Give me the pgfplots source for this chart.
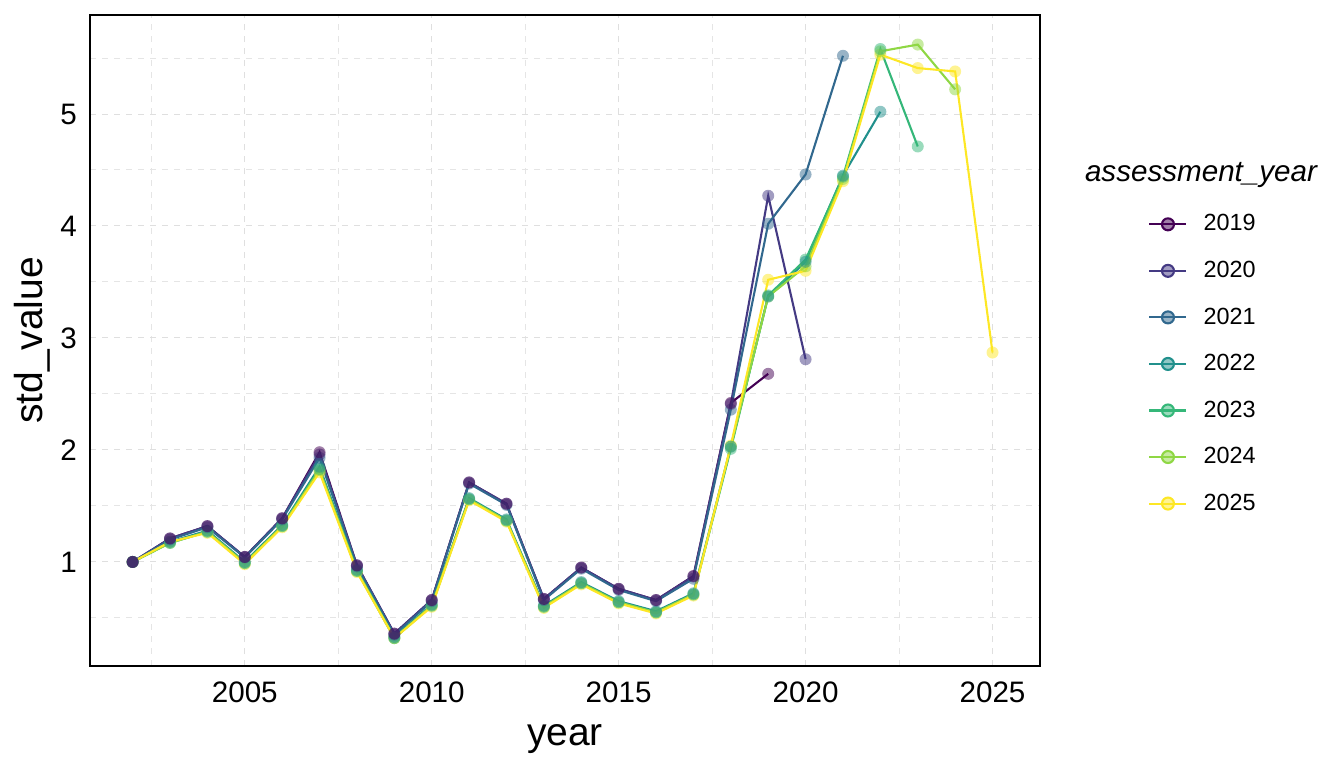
\documentclass[border=0pt]{standalone}
\usepackage{fontspec}
\setmainfont{Liberation Sans}
\usepackage{pgfplots}
\usepackage{pgfplotstable}
\pgfplotsset{compat=1.18}
\definecolor{c19}{HTML}{440154}
\definecolor{c20}{HTML}{443A83}
\definecolor{c21}{HTML}{31688E}
\definecolor{c22}{HTML}{21908C}
\definecolor{c23}{HTML}{35B779}
\definecolor{c24}{HTML}{8FD744}
\definecolor{c25}{HTML}{FDE725}

\pgfplotstableread{
x y
2002 1.00
2003 1.21
2004 1.32
2005 1.045
2006 1.39
2007 1.98
2008 0.97
2009 0.36
2010 0.66
2011 1.71
2012 1.52
2013 0.67
2014 0.95
2015 0.76
2016 0.66
2017 0.875
2018 2.42
2019 2.68
}\tA
\pgfplotstableread{
x y
2002 1.00
2003 1.21
2004 1.32
2005 1.045
2006 1.39
2007 1.96
2008 0.97
2009 0.36
2010 0.66
2011 1.71
2012 1.52
2013 0.67
2014 0.95
2015 0.76
2016 0.66
2017 0.87
2018 2.41
2019 4.27
2020 2.81
}\tB
\pgfplotstableread{
x y
2002 1.00
2003 1.20
2004 1.31
2005 1.04
2006 1.38
2007 1.93
2008 0.96
2009 0.35
2010 0.65
2011 1.70
2012 1.51
2013 0.66
2014 0.94
2015 0.75
2016 0.65
2017 0.85
2018 2.36
2019 4.02
2020 4.46
2021 5.52
}\tC
\pgfplotstableread{
x y
2002 1.00
2003 1.18
2004 1.28
2005 1.00
2006 1.33
2007 1.85
2008 0.93
2009 0.33
2010 0.62
2011 1.57
2012 1.38
2013 0.61
2014 0.82
2015 0.65
2016 0.56
2017 0.72
2018 2.03
2019 3.37
2020 3.68
2021 4.45
2022 5.02
}\tD
\pgfplotstableread{
x y
2002 1.00
2003 1.17
2004 1.27
2005 0.99
2006 1.32
2007 1.83
2008 0.92
2009 0.32
2010 0.61
2011 1.56
2012 1.37
2013 0.60
2014 0.81
2015 0.64
2016 0.55
2017 0.71
2018 2.01
2019 3.38
2020 3.70
2021 4.44
2022 5.58
2023 4.71
}\tE
\pgfplotstableread{
x y
2002 1.00
2003 1.17
2004 1.27
2005 0.99
2006 1.32
2007 1.82
2008 0.92
2009 0.32
2010 0.61
2011 1.56
2012 1.37
2013 0.60
2014 0.81
2015 0.64
2016 0.55
2017 0.71
2018 2.03
2019 3.37
2020 3.64
2021 4.42
2022 5.56
2023 5.62
2024 5.22
}\tF
\pgfplotstableread{
x y
2002 1.00
2003 1.18
2004 1.26
2005 0.98
2006 1.31
2007 1.80
2008 0.91
2009 0.32
2010 0.60
2011 1.55
2012 1.36
2013 0.59
2014 0.80
2015 0.63
2016 0.54
2017 0.70
2018 2.04
2019 3.52
2020 3.60
2021 4.40
2022 5.53
2023 5.41
2024 5.38
2025 2.87
}\tG

\begin{document}
\begin{tikzpicture}
\useasboundingbox (0,0) rectangle (672pt,384pt);
\begin{axis}[
  at={(45pt,51pt)}, anchor=south west,
  scale only axis, width=475pt, height=325.5pt,
  xmin=2000.86, xmax=2026.27, ymin=0.071, ymax=5.884,
  xtick={2005,2010,2015,2020,2025},
  minor xtick={2002.5,2007.5,2012.5,2017.5,2022.5},
  ytick={1,2,3,4,5},
  minor ytick={0.5,1.5,2.5,3.5,4.5,5.5},
  xticklabel style={/pgf/number format/1000 sep={}},
  /pgf/number format/assume math mode=true,
  grid=both,
  major grid style={gray!25, line width=0.5pt, dash pattern=on 3pt off 3pt},
  minor grid style={gray!20, line width=0.5pt, dash pattern=on 3pt off 3pt},
  major tick length=0pt, minor tick length=0pt,
  axis line style={black, line width=1pt},
  ticklabel style={font=\fontsize{14.8}{17}\selectfont, black},
  xticklabel style={yshift=-4.5pt},
  yticklabel style={xshift=-3pt},
  xlabel={year}, ylabel={std\_value},
  label style={font=\fontsize{19.5}{22}\selectfont},
  xlabel style={yshift=-4pt},
  ylabel style={yshift=-2pt},
  legend style={at={(1.1137,0.464)}, anchor=west, draw=none, fill=none,
    inner sep=0pt, font=\fontsize{11.7}{14}\selectfont, row sep=9.6pt},
  legend cell align=left,
  legend image code/.code={
    \draw[#1] (0pt,0pt) -- (18.5pt,0pt);
    \fill[#1, fill opacity=0.5] (9.25pt,0pt) circle (3pt);
    \path (24.5pt,0pt);
  },
]
% lines
\addplot[c19, line width=1.05pt, no marks] table {\tA}; \addlegendentry{2019}
\addplot[c20, line width=1.05pt, no marks] table {\tB}; \addlegendentry{2020}
\addplot[c21, line width=1.05pt, no marks] table {\tC}; \addlegendentry{2021}
\addplot[c22, line width=1.05pt, no marks] table {\tD}; \addlegendentry{2022}
\addplot[c23, line width=1.05pt, no marks] table {\tE}; \addlegendentry{2023}
\addplot[c24, line width=1.05pt, no marks] table {\tF}; \addlegendentry{2024}
\addplot[c25, line width=1.05pt, no marks] table {\tG}; \addlegendentry{2025}
% points (drawn from the last assessment year to the first)
\addplot[forget plot, only marks, mark=*, mark size=3pt, color=c25, mark options={fill opacity=0.5, draw opacity=0}] table {\tG};
\addplot[forget plot, only marks, mark=*, mark size=3pt, color=c24, mark options={fill opacity=0.5, draw opacity=0}] table {\tF};
\addplot[forget plot, only marks, mark=*, mark size=3pt, color=c23, mark options={fill opacity=0.5, draw opacity=0}] table {\tE};
\addplot[forget plot, only marks, mark=*, mark size=3pt, color=c22, mark options={fill opacity=0.5, draw opacity=0}] table {\tD};
\addplot[forget plot, only marks, mark=*, mark size=3pt, color=c21, mark options={fill opacity=0.5, draw opacity=0}] table {\tC};
\addplot[forget plot, only marks, mark=*, mark size=3pt, color=c20, mark options={fill opacity=0.5, draw opacity=0}] table {\tB};
\addplot[forget plot, only marks, mark=*, mark size=3pt, color=c19, mark options={fill opacity=0.5, draw opacity=0}] table {\tA};
\end{axis}
\node[font=\fontsize{14.8}{17}\selectfont\itshape] at (600.5pt,296.5pt) {assessment\_year};
\end{tikzpicture}
\end{document}
